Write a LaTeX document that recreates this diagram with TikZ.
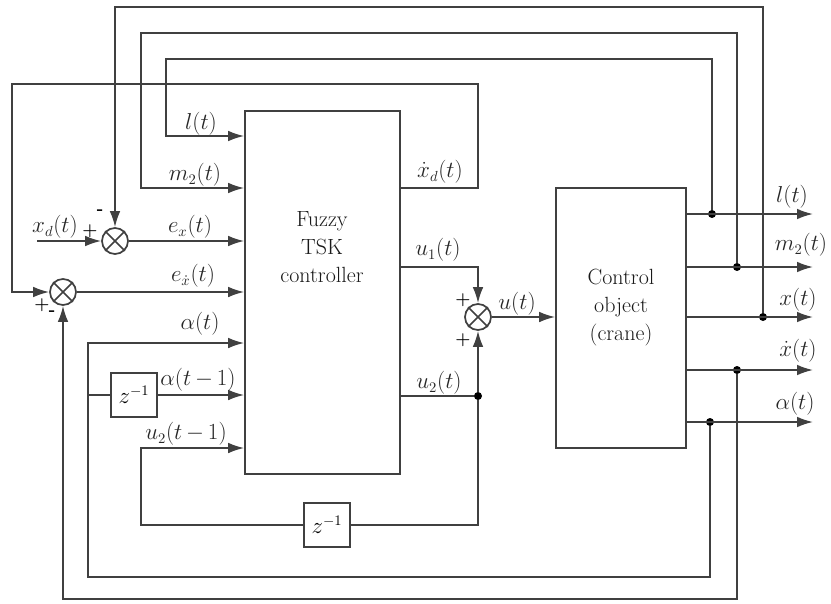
\documentclass[tikz,border=0pt]{standalone}
\usepackage{fontspec}
\usetikzlibrary{arrows.meta,fit,calc}
\begin{document}
\begin{tikzpicture}[x=0.75pt,y=-0.75pt,
  wire/.style={line width=1.3pt, draw=black!75},
  arr/.style={wire, -{Latex[length=12pt,width=8pt]}},
  blk/.style={draw=black!75, line width=1.3pt, inner sep=0pt},
  sumnode/.style={circle, draw=black!75, line width=1.3pt, minimum size=19.5pt, inner sep=0pt},
  zbox/.style={blk, fill=white, minimum width=34pt, minimum height=33pt, font=\fontsize{16}{18}\selectfont},
  jdot/.style={circle, fill=black, minimum size=6pt, inner sep=0pt},
  lab/.style={font=\fontsize{16}{18}\selectfont, text=black!85, inner sep=0pt},
  big/.style={font=\fontsize{16.5}{21}\selectfont, text=black!90, align=center, inner sep=0pt},
  sgn/.style={font=\bfseries\fontsize{13}{13}\selectfont, inner sep=0pt}
]
\useasboundingbox (0,0) rectangle (831,603);

% blocks
\node[blk, fit={(245,111) (400,474)}] (fuz) {};
\node[big] (fuztxt) at (322,247) {Fuzzy\\TSK\\controller};
\node[blk, fit={(556,188) (686,448)}] (plant) {};
\node[big] (planttxt) at (621,308) {Control\\object\\(crane)};

% summing junctions
\node[sumnode] (s1) at (115,241) {};
\node[sumnode] (s2) at (63,292) {};
\node[sumnode] (s3) at (478,317) {};
\foreach \s in {s1,s2,s3} \draw[wire] (\s.45) -- (\s.225) (\s.135) -- (\s.315);

% delay boxes
\node[zbox] (z1) at (134,395) {$z^{-1}$};
\node[zbox] (z2) at (327,525) {$z^{-1}$};

% junction dots
\node[jdot] (jl) at (712,214) {};
\node[jdot] (jm) at (737,267) {};
\node[jdot] (jx) at (763,317) {};
\node[jdot] (jxd) at (737,370) {};
\node[jdot] (ja) at (710,422) {};
\node[jdot] (ju2) at (478,396) {};

% output ends
\coordinate (ol) at (813,214);
\coordinate (om) at (813,267);
\coordinate (ox) at (813,317);
\coordinate (oxd) at (813,370);
\coordinate (oa) at (813,422);
\coordinate (xdin) at (37,241);

% outputs of plant
\draw[arr] (plant.east |- jl) -- (ol);
\draw[arr] (plant.east |- jm) -- (om);
\draw[arr] (plant.east |- jx) -- (ox);
\draw[arr] (plant.east |- jxd) -- (oxd);
\draw[arr] (plant.east |- ja) -- (oa);

% feedback loops
\draw[arr] (jl) -- (712,59) -- (166,59) -- (166,136) -- (fuz.west |- 0,136);
\draw[arr] (jm) -- (737,33) -- (141,33) -- (141,188) -- (fuz.west |- 0,188);
\draw[arr] (jx) -- (763,7) -- (115,7) -- (s1.north);
\draw[arr] (xdin) -- (s1.west);
\draw[arr] (s1.east) -- (fuz.west |- s1);
\draw[arr] (fuz.east |- 0,188) -- (478,188) -- (478,84) -- (12,84) -- (12,292) -- (s2.west);
\draw[arr] (s2.east) -- (fuz.west |- s2);
\draw[arr] (jxd) -- (737,599) -- (63,599) -- (s2.south);
\draw[arr] (ja) -- (710,577) -- (88,577) -- (88,343) -- (fuz.west |- 0,343);
\draw[wire] (88,395) -- (z1.west);
\draw[arr] (z1.east) -- (fuz.west |- z1);
\draw[arr] (fuz.east |- 0,267) -- (478,267) -- (s3.north);
\draw[wire] (fuz.east |- ju2) -- (ju2);
\draw[arr] (ju2) -- (s3.south);
\draw[wire] (ju2) -- (478,525) -- (z2.east);
\draw[arr] (z2.west) -- (141,525) -- (141,448) -- (fuz.west |- 0,448);
\draw[arr] (s3.east) -- (plant.west |- s3);

% labels
\node[lab] at (201,124) {$l(t)$};
\node[lab] at (195,175) {$m_2(t)$};
\node[lab] at (190,227) {$e_x(t)$};
\node[lab] at (193,276) {$e_{\dot{x}}(t)$};
\node[lab] at (200,324) {$\alpha(t)$};
\node[lab] at (198,380) {$\alpha(t\,{-}\,1)$};
\node[lab] at (186,434) {$u_2(t\,{-}\,1)$};
\node[lab] at (55,227) {$x_d(t)$};
\node[lab] at (440,172) {$\dot{x}_d(t)$};
\node[lab] at (438,250) {$u_1(t)$};
\node[lab] at (439,383) {$u_2(t)$};
\node[lab] at (517,304) {$u(t)$};
\node[lab] at (792,197) {$l(t)$};
\node[lab] at (801,245) {$m_2(t)$};
\node[lab] at (798,300) {$x(t)$};
\node[lab] at (798,351) {$\dot{x}(t)$};
\node[lab] at (795,404) {$\alpha(t)$};

% signs
\node[sgn] at (90,231) {+};
\node[sgn] at (100,212) {-};
\node[sgn] at (42,305) {+};
\node[sgn] at (52,313) {-};
\node[sgn] at (463,300) {+};
\node[sgn] at (463,340) {+};
\end{tikzpicture}
\end{document}
